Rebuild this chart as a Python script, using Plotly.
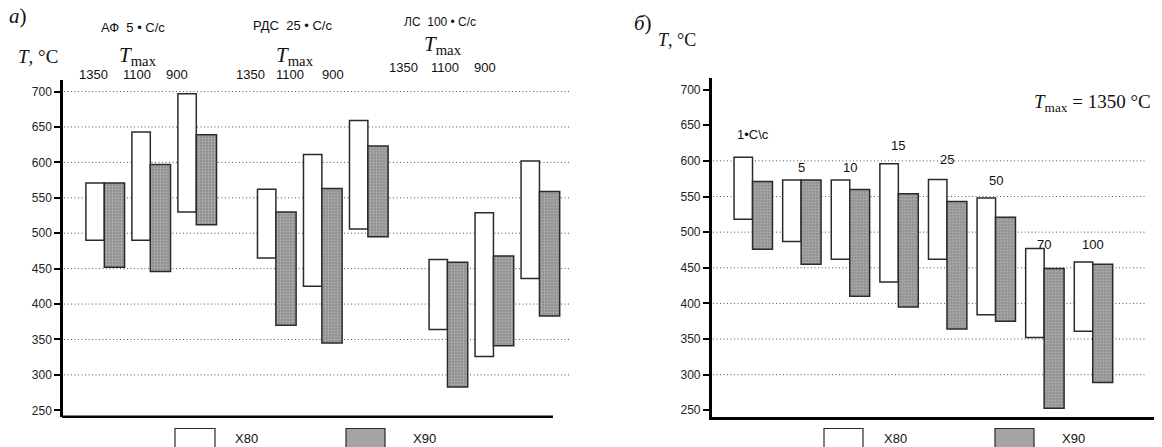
import plotly.graph_objects as go

# ---------------- data ----------------
# panel a: groups (welding process) x Tmax
groups_a = ["АФ", "РДС", "ЛС"]
group_headers = ["АФ  5 • C/c", "РДС  25 • C/c", "ЛС  100 • C/c"]
tmax_labels = ["1350", "1100", "900"]

x80_a_top = [571, 643, 697, 562, 611, 659, 463, 529, 602]
x80_a_bot = [490, 490, 530, 465, 425, 506, 364, 326, 436]
x90_a_top = [571, 597, 639, 530, 563, 623, 459, 468, 559]
x90_a_bot = [452, 446, 512, 370, 345, 495, 283, 341, 383]

# panel b: cooling rate, Tmax = 1350 °C
rates_b = ["1•C\\c", "5", "10", "15", "25", "50", "70", "100"]
rate_label_T = [637, 591, 591, 622, 602, 573, 483, 483]
x80_b_top = [605, 573, 573, 596, 574, 548, 477, 458]
x80_b_bot = [518, 487, 462, 430, 462, 384, 352, 361]
x90_b_top = [571, 573, 560, 554, 543, 521, 449, 455]
x90_b_bot = [476, 455, 410, 395, 364, 375, 253, 289]

y_ticks = [250, 300, 350, 400, 450, 500, 550, 600, 650, 700]
grid_a = [300, 350, 400, 450, 500, 550, 600, 650, 700]
grid_b = [300, 350, 400, 450, 500, 550, 600]

# ---------------- layout helpers ----------------
W, H = 1162, 447
SANS = "Liberation Sans, Arial, sans-serif"
SERIF = "Liberation Serif, Times New Roman, serif"
EDGE = "#2a2a2a"
PATTERN = dict(shape=".", bgcolor="#8c8c8c", fgcolor="#d0d0d0", size=3, solidity=0.45)
GRID_LINE = dict(color="#555", width=1, dash="1px,2.5px")

def px(x):
    return x / W

def py(y):
    return 1 - y / H

group_step = 3.73
pos_a = [g * group_step + i for g in range(len(groups_a)) for i in range(len(tmax_labels))]
pos_b = list(range(len(rates_b)))

fig = go.Figure()

def add_pair(xpos, top80, bot80, top90, bot90, w80, w90, xa, ya):
    fig.add_trace(go.Bar(
        x=xpos, y=[t - b for t, b in zip(top80, bot80)], base=bot80,
        width=w80, offset=-w80, name="X80", showlegend=False,
        marker=dict(color="white", line=dict(color=EDGE, width=1.5)),
        xaxis=xa, yaxis=ya))
    fig.add_trace(go.Bar(
        x=xpos, y=[t - b for t, b in zip(top90, bot90)], base=bot90,
        width=w90, offset=0, name="X90", showlegend=False,
        marker=dict(color="#9a9a9a", pattern=PATTERN, line=dict(color=EDGE, width=1.5)),
        xaxis=xa, yaxis=ya))

add_pair(pos_a, x80_a_top, x80_a_bot, x90_a_top, x90_a_bot, 0.40, 0.44, "x", "y")
add_pair(pos_b, x80_b_top, x80_b_bot, x90_b_top, x90_b_bot, 0.38, 0.41, "x2", "y2")

yax = dict(range=[241, 716.3], tickvals=y_ticks, showgrid=False, zeroline=False,
           showline=True, linewidth=2.5, linecolor="black", ticks="outside",
           ticklen=6, tickwidth=2, tickcolor="black",
           tickfont=dict(family=SANS, size=12, color="#222"))

bottom_dom = 30.3 / H
fig.update_layout(
    width=W, height=H, margin=dict(l=0, r=0, t=0, b=0),
    paper_bgcolor="white", plot_bgcolor="white", barmode="overlay",
    showlegend=False,
    xaxis=dict(domain=[px(63), px(570)], range=[-0.898, 10.124], visible=False),
    yaxis=dict(domain=[bottom_dom, py(80)], anchor="x", **yax),
    xaxis2=dict(domain=[px(711.7), px(1154)], range=[-0.84, 8.26], showline=True,
                linewidth=2.5, linecolor="black", showticklabels=False, ticks="",
                showgrid=False, zeroline=False, anchor="y2"),
    yaxis2=dict(domain=[bottom_dom, py(78)], anchor="x2", **yax),
)

shapes = []
# dotted gridlines
for g in grid_a:
    shapes.append(dict(type="line", xref="paper", yref="y", x0=px(64), x1=px(570), y0=g, y1=g,
                       line=GRID_LINE, layer="below"))
for g in grid_b:
    shapes.append(dict(type="line", xref="paper", yref="y2", x0=px(713), x1=px(1147), y0=g, y1=g,
                       line=GRID_LINE, layer="below"))
# x axis line for panel a (shorter than the grid)
shapes.append(dict(type="line", xref="paper", yref="paper", x0=px(62), x1=px(553),
                   y0=bottom_dom, y1=bottom_dom, line=dict(color="black", width=2.5)))

# legend swatches
def swatch(x0, x1, fill):
    shapes.append(dict(type="rect", xref="paper", yref="paper", x0=px(x0), x1=px(x1),
                       y0=py(448), y1=py(428.5), fillcolor=fill,
                       line=dict(color=EDGE, width=1.2)))

swatch(175, 215, "white")
swatch(346, 385, "#a4a4a4")
swatch(824, 863, "white")
swatch(995, 1034, "#a4a4a4")
fig.update_layout(shapes=shapes)

ann = []

def text(x, y, s, size, family=SANS, color="#111", xanchor="center"):
    ann.append(dict(x=px(x), y=py(y), xref="paper", yref="paper", text=s, showarrow=False,
                    xanchor=xanchor, yanchor="middle", font=dict(family=family, size=size, color=color)))

# panel a texts
text(18, 16, "<i>а</i>)", 21, SERIF)
text(38, 56, "<i>T</i>, °C", 19, SERIF)
header_xy = [(133, 27, 13), (292, 26, 13), (440, 22, 12)]
for (hx, hy, hs), h in zip(header_xy, group_headers):
    text(hx, hy, h, hs)
tmax_xy = [(138, 56), (295, 56), (443, 45)]
for tx, ty in tmax_xy:
    text(tx, ty, "<i>T</i><sub>max</sub>", 21, SERIF)
num_rows = [([93, 137, 177], 74), ([250, 290, 333], 74), ([403, 445, 485], 67)]
for xs, yy in num_rows:
    for xx, lab in zip(xs, tmax_labels):
        text(xx, yy, lab, 13)

# panel b texts
text(643, 23, "<i>б</i>)", 21, SERIF)
text(677, 40, "<i>T</i>, °C", 18, SERIF)
text(1092, 103, "<i>T</i><sub>max</sub> = 1350 °C", 19, SERIF)
for p, lab, ly in zip(pos_b, rates_b, rate_label_T):
    ann.append(dict(x=p, y=ly, xref="x2", yref="y2", text=lab, showarrow=False,
                    xanchor="center", yanchor="middle",
                    font=dict(family=SANS, size=13, color="#111")))

# legend texts
text(247, 438, "X80", 13)
text(424, 438, "X90", 13)
text(895, 438, "X80", 13)
text(1073, 438, "X90", 13)

fig.update_layout(annotations=ann)
fig.write_html("out.html", config={"displayModeBar": False},
               post_script="document.body.style.margin='0';")
